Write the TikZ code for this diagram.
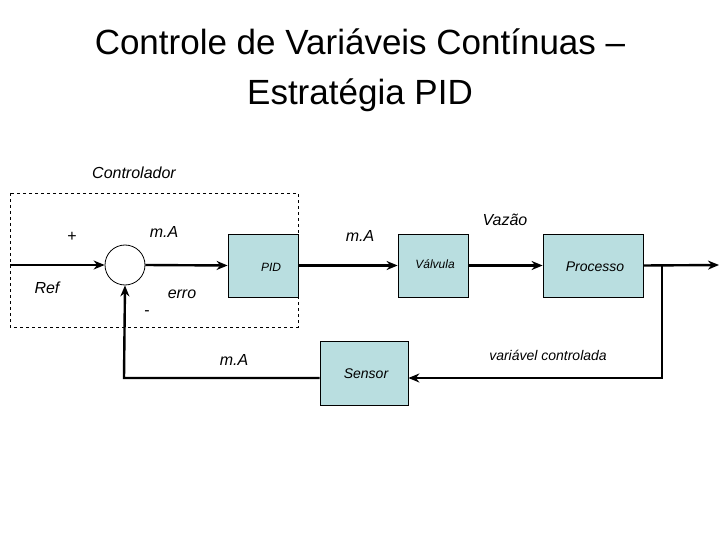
\documentclass[tikz,border=0pt]{standalone}
\usepackage{fontspec}
\setmainfont{Liberation Sans}
\usetikzlibrary{arrows.meta}
\definecolor{boxfill}{HTML}{B9DEE0}
\begin{document}
\begin{tikzpicture}[x=1pt,y=-1pt,
  blk/.style={draw,fill=boxfill,thick,minimum width=#1,minimum height=63pt,inner sep=0pt},
  wire/.style={line width=2.4pt},
  arr/.style={wire,-{Stealth[length=11pt,width=9pt]}},
  lbl/.style={font=\fontsize{16}{18}\selectfont\itshape},
  small/.style={font=\fontsize{12}{14}\selectfont\itshape},
  mid/.style={font=\fontsize{14}{16}\selectfont\itshape}]
\useasboundingbox (0,0) rectangle (720,540);
\node[font=\fontsize{35}{50}\selectfont,align=center] (title) at (360,70) {Controle de Variáveis Contínuas –\\Estratégia PID};
\node[lbl] (ctl) at (134,173) {Controlador};
\draw[dashed,thick] (10,193) rectangle (298,327);
\node[draw,circle,thick,minimum size=40pt,inner sep=0pt] (sum) at (125,265) {};
\node[blk=70pt] (pid) at (263,265.5) {};
\node[small] (pidl) at (271,267) {PID};
\node[blk=70pt] (val) at (433,265.5) {};
\node[small] (vall) at (435,264) {Válvula};
\node[blk=100pt] (proc) at (593,265.5) {};
\node[mid] (procl) at (595,267) {Processo};
\node[blk=88pt,minimum height=64pt] (sen) at (364,373) {};
\node[mid] (senl) at (366,374) {Sensor};
\coordinate (in) at (10,265);
\coordinate (out) at (719,265);
\coordinate (tap) at (662,265);
\coordinate (c1) at (662,378);
\coordinate (c2) at (124,378);
\draw[arr] (in) -- (sum.west);
\draw[arr] (sum.east) -- (pid.west);
\draw[arr] (pid.east) -- (val.west);
\draw[arr] (val.east) -- (proc.west);
\draw[arr] (proc.east) -- (out);
\draw[arr] (tap) -- (c1) -- (c1 -| sen.east);
\draw[arr] (c1 -| sen.west) -- (c2) -- (sum.south);
\node[font=\fontsize{16}{18}\selectfont] (plus) at (72,237) {+};
\node[lbl] (ref) at (47,288) {Ref};
\node[font=\fontsize{16}{18}\selectfont] (minus) at (147,313) {-};
\node[lbl] (erro) at (182,294) {erro};
\node[lbl] (ma1) at (164,232) {m.A};
\node[lbl] (ma2) at (360,236) {m.A};
\node[lbl] (ma3) at (234,360) {m.A};
\node[lbl] (vaz) at (505,220) {Vazão};
\node[mid] (vc) at (548,355) {variável controlada};
\end{tikzpicture}
\end{document}
